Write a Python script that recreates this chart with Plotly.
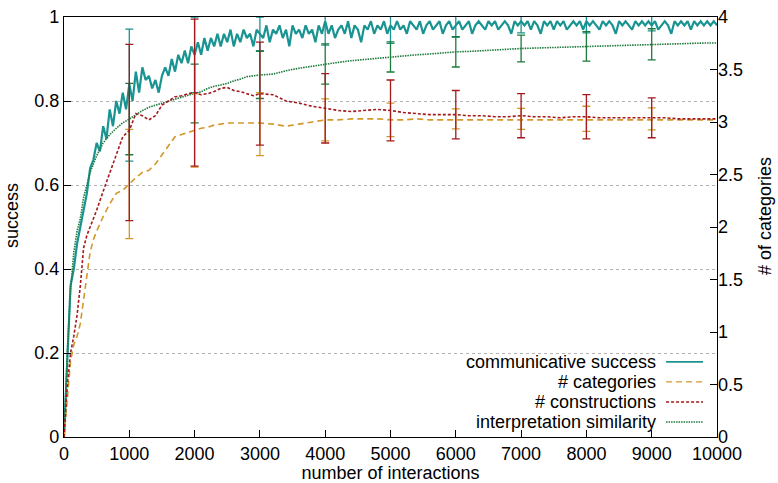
import plotly.graph_objects as go

# ---------------- data ----------------
x_cs = list(range(0, 10001, 50))
comm_success = [
    0.0, 0.20, 0.36, 0.40, 0.46, 0.50, 0.54, 0.58, 0.64, 0.66, 0.70, 0.68, 0.74, 0.71, 0.78, 0.74, 0.80, 0.77, 0.82, 0.78, 0.84,
    0.80, 0.87, 0.82, 0.88, 0.85, 0.86, 0.83, 0.85, 0.82, 0.86, 0.88, 0.86, 0.90, 0.87, 0.91, 0.89, 0.92, 0.89, 0.93, 0.91,
    0.94, 0.91, 0.95, 0.92, 0.95, 0.93, 0.96, 0.93, 0.96, 0.94, 0.97, 0.93, 0.96, 0.94, 0.97, 0.95, 0.96, 0.93, 0.97, 0.96,
    0.95, 0.98, 0.94, 0.97, 0.96, 0.98, 0.95, 0.97, 0.93, 0.98, 0.96, 0.97, 0.95, 0.98, 0.96, 0.97, 0.94, 0.98, 0.96, 0.99,
    0.96, 0.98, 0.95, 0.97, 0.98, 0.96, 0.99, 0.95, 0.98, 0.97, 0.94, 0.98, 0.97, 0.99, 0.96, 0.98, 0.97, 0.99, 0.96, 0.98,
    0.97, 0.99, 0.97, 0.98, 0.96, 0.99, 0.98, 0.97, 0.99, 0.96, 0.98, 0.99, 0.97, 0.98, 0.99, 0.96, 0.98, 0.99, 0.97, 0.98,
    0.99, 0.97, 0.98, 0.99, 0.96, 0.98, 0.99, 0.98, 0.97, 0.99, 0.98, 0.99, 0.97, 0.98, 0.99, 0.98, 0.96, 0.99, 0.98, 0.99,
    0.98, 0.99, 0.97, 0.99, 0.98, 0.96, 0.99, 0.98, 0.99, 0.97, 0.99, 0.98, 0.99, 0.97, 0.98, 0.99, 0.98, 0.99, 0.97, 0.99,
    0.98, 0.99, 0.98, 0.97, 0.99, 0.98, 0.99, 0.98, 0.96, 0.99, 0.98, 0.99, 0.98, 0.97, 0.99, 0.98, 0.99, 0.98, 0.99, 0.98,
    0.99, 0.97, 0.98, 0.99, 0.98, 0.96, 0.99, 0.98, 0.99, 0.98, 0.99, 0.97, 0.99, 0.98, 0.99, 0.98, 0.99, 0.98, 0.99, 0.98,
]

x_s = [0, 50, 100, 150, 200, 250, 300, 350, 400, 450, 500,
       600, 700, 800, 900, 1000, 1100, 1200, 1300, 1400, 1500, 1600, 1700, 1800, 1900, 2000,
       2100, 2200, 2300, 2400, 2500, 2600, 2700, 2800, 2900, 3000,
       3200, 3400, 3600, 3800, 4000, 4200, 4400, 4600, 4800, 5000, 5200, 5400, 5600, 5800, 6000,
       6200, 6400, 6600, 6800, 7000, 7200, 7400, 7600, 7800, 8000, 8200, 8400, 8600, 8800, 9000,
       9200, 9400, 9600, 9800, 10000]

num_categories = [
    0.0, 0.40, 0.72, 0.88, 0.96, 1.08, 1.32, 1.56, 1.76, 1.88, 1.96,
    2.10, 2.22, 2.32, 2.35, 2.41, 2.47, 2.52, 2.54, 2.60, 2.69, 2.78, 2.86, 2.88, 2.90, 2.92,
    2.94, 2.95, 2.97, 2.98, 2.99, 2.99, 2.99, 2.99, 2.99, 2.99,
    2.98, 2.96, 2.98, 3.00, 3.02, 3.02, 3.03, 3.03, 3.03, 3.02, 3.02, 3.03, 3.02, 3.02, 3.02,
    3.02, 3.02, 3.02, 3.02, 3.02, 3.02, 3.02, 3.02, 3.02, 3.02, 3.02, 3.02, 3.02, 3.02, 3.02,
    3.02, 3.02, 3.02, 3.02, 3.02,
]

num_constructions = [
    0.0, 0.48, 0.80, 0.96, 1.16, 1.44, 1.80, 1.92, 2.00, 2.08, 2.16,
    2.34, 2.52, 2.68, 2.86, 2.92, 3.08, 3.06, 3.02, 3.06, 3.16, 3.20, 3.24, 3.25, 3.27, 3.28,
    3.26, 3.27, 3.29, 3.32, 3.33, 3.30, 3.29, 3.27, 3.25, 3.27,
    3.26, 3.20, 3.18, 3.15, 3.13, 3.11, 3.10, 3.11, 3.12, 3.11, 3.09, 3.08, 3.07, 3.07, 3.07,
    3.06, 3.06, 3.05, 3.05, 3.06, 3.05, 3.05, 3.04, 3.05, 3.05, 3.04, 3.04, 3.04, 3.04, 3.04,
    3.04, 3.03, 3.03, 3.03, 3.03,
]

interp_similarity = [
    0.0, 0.20, 0.35, 0.44, 0.49, 0.52, 0.57, 0.60, 0.63, 0.65, 0.67,
    0.70, 0.72, 0.735, 0.748, 0.757, 0.768, 0.777, 0.785, 0.790, 0.794, 0.799, 0.804, 0.810, 0.814, 0.818,
    0.822, 0.830, 0.835, 0.838, 0.842, 0.848, 0.852, 0.858, 0.860, 0.862,
    0.864, 0.872, 0.878, 0.883, 0.888, 0.892, 0.896, 0.899, 0.902, 0.905, 0.907, 0.910, 0.912, 0.915, 0.917,
    0.918, 0.920, 0.922, 0.924, 0.925, 0.926, 0.927, 0.928, 0.929, 0.930, 0.931, 0.932, 0.933, 0.934, 0.935,
    0.936, 0.936, 0.937, 0.938, 0.938,
]

err_x = [1000, 2000, 3000, 4000, 5000, 6000, 7000, 8000, 9000]
cs_mean = [0.814, 0.91, 0.96, 0.973, 0.975, 0.98, 0.982, 0.984, 0.985]
cs_err = [0.157, 0.09, 0.04, 0.04, 0.038, 0.028, 0.02, 0.022, 0.018]
cat_mean = [2.41, 2.92, 2.98, 3.02, 3.02, 3.03, 3.03, 3.03, 3.03]
cat_err = [0.52, 0.35, 0.30, 0.20, 0.16, 0.095, 0.10, 0.12, 0.105]
cons_mean = [2.90, 3.28, 3.27, 3.13, 3.11, 3.07, 3.06, 3.05, 3.04]
cons_err = [0.84, 0.70, 0.49, 0.33, 0.29, 0.23, 0.21, 0.21, 0.19]
sim_mean = [0.757, 0.818, 0.862, 0.888, 0.905, 0.917, 0.925, 0.93, 0.935]
sim_err = [0.085, 0.07, 0.056, 0.048, 0.036, 0.036, 0.032, 0.035, 0.037]

series_names = ["communicative success", "# categories", "# constructions", "interpretation similarity"]
x_ticks = list(range(0, 10001, 1000))
x_title = "number of interactions"
y_title = "success"
y2_title = "# of categories"

# ---------------- style ----------------
FONT = "Liberation Sans, Arial, Helvetica, sans-serif"
FS = 18
colors = ["#1a9492", "#d3972c", "#a3191c", "#1d7a3c"]
dashes = ["solid", "6px,4px", "3px,2px", "1.5px,1px"]
widths = [2.2, 1.6, 1.6, 1.6]

fig = go.Figure()

line_data = [
    (x_cs, comm_success, "y"),
    (x_s, num_categories, "y2"),
    (x_s, num_constructions, "y2"),
    (x_s, interp_similarity, "y"),
]
err_data = [
    (cs_mean, cs_err, "y"),
    (cat_mean, cat_err, "y2"),
    (cons_mean, cons_err, "y2"),
    (sim_mean, sim_err, "y"),
]

for i, ((xs, ys, ax), (m, e, ax2)) in enumerate(zip(line_data, err_data)):
    fig.add_trace(go.Scatter(
        x=xs, y=ys, yaxis=ax, mode="lines", name=series_names[i],
        line=dict(color=colors[i], width=widths[i], dash=dashes[i]),
        showlegend=False, hoverinfo="skip",
    ))
    fig.add_trace(go.Scatter(
        x=err_x, y=m, yaxis=ax2, mode="markers",
        marker=dict(size=1, color="rgba(0,0,0,0)"),
        error_y=dict(type="data", array=e, symmetric=True, color=colors[i],
                     thickness=1.3, width=4),
        showlegend=False, hoverinfo="skip",
    ))

# custom gnuplot-like legend (text right-aligned, sample on the right)
legend_rows = [0.1786, 0.131, 0.0833, 0.0357]
for i, name in enumerate(series_names):
    fig.add_annotation(
        x=0.9096, y=legend_rows[i], xref="paper", yref="paper",
        text=name, showarrow=False, xanchor="right", yanchor="middle",
        font=dict(family=FONT, size=FS, color="black"),
    )
    fig.add_shape(
        type="line", xref="paper", yref="paper",
        x0=0.922, x1=0.9786, y0=legend_rows[i], y1=legend_rows[i],
        line=dict(color=colors[i], width=widths[i] * 0.8, dash=dashes[i]),
    )

# vertical axis titles placed like gnuplot
fig.add_annotation(x=-0.0796, y=0.526, xref="paper", yref="paper", text=y_title,
                   textangle=-90, showarrow=False, xanchor="center", yanchor="middle",
                   font=dict(family=FONT, size=FS, color="black"))
fig.add_annotation(x=1.0735, y=0.526, xref="paper", yref="paper", text=y2_title,
                   textangle=-90, showarrow=False, xanchor="center", yanchor="middle",
                   font=dict(family=FONT, size=FS, color="black"))

fig.update_layout(
    width=778, height=483,
    margin=dict(l=64, r=61, t=17, b=46),
    paper_bgcolor="white", plot_bgcolor="white",
    font=dict(family=FONT, size=FS, color="black"),
    showlegend=False,
    xaxis=dict(
        range=[0, 10000], tickvals=x_ticks, tickformat="d", automargin=False,
        ticks="inside", ticklen=7, tickcolor="black", tickwidth=1,
        showline=True, linecolor="black", linewidth=1.3, mirror=True,
        showgrid=False, zeroline=False, ticklabeloverflow="allow",
        title=dict(text=x_title, standoff=0, font=dict(size=FS)),
        tickfont=dict(size=FS),
    ),
    yaxis=dict(
        range=[0, 1], dtick=0.2, automargin=False, ticklabeloverflow="allow",
        ticks="inside", ticklen=7, tickcolor="black", tickwidth=1,
        showline=True, linecolor="black", linewidth=1.3, mirror=True,
        showgrid=True, gridcolor="#b4b4b4", griddash="dot", gridwidth=1,
        zeroline=False,
        tickfont=dict(size=FS),
    ),
    yaxis2=dict(
        range=[0, 4], dtick=0.5, overlaying="y", side="right", automargin=False,
        ticklabeloverflow="allow",
        ticks="inside", ticklen=7, tickcolor="black", tickwidth=1,
        showline=False, showgrid=False, zeroline=False,
        tickfont=dict(size=FS),
    ),
)

# remove the default page margin so the 778x483 figure fills the window exactly
fig.write_html(
    "out.html",
    config={"displayModeBar": False},
    post_script="document.body.style.margin='0';document.body.style.overflow='hidden';",
)
